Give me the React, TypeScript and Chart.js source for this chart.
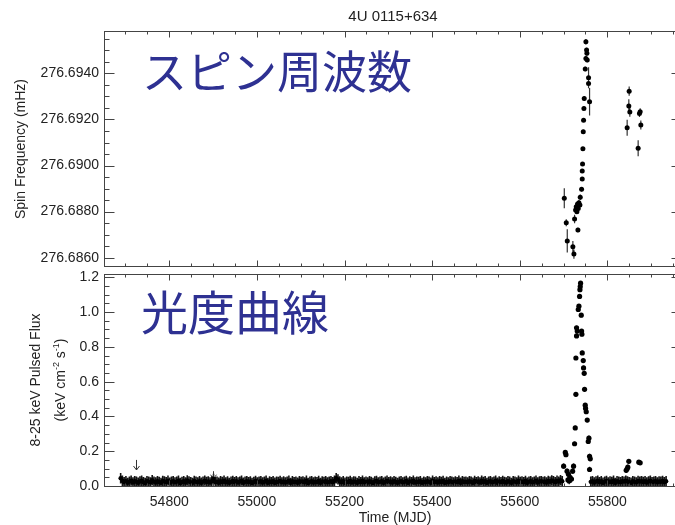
import { useEffect, useRef } from "react";
import { Chart, registerables } from "chart.js";
Chart.register(...registerables);

// ---------- data ----------
const TITLE = "4U 0115+634";
const TOP_LABEL_JP = "スピン周波数";
const BOTTOM_LABEL_JP = "光度曲線";
const X_MIN = 54651;
const X_MAX = 55968;
const X_TICKS = [54800, 55000, 55200, 55400, 55600, 55800];
const FREQ_MIN = 276.68564;
const FREQ_MAX = 276.69584;
const FREQ_TICKS = [276.686, 276.688, 276.69, 276.692, 276.694];
const FLUX_MIN = 0;
const FLUX_MAX = 1.219;
const FLUX_TICKS = [0, 0.2, 0.4, 0.6, 0.8, 1.0, 1.2];

const freqMjd = [55750.9, 55752.5, 55753.2, 55750.9, 55754.0, 55749.4, 55757.0, 55757.0, 55759.3, 55747.1, 55746.4, 55745.6, 55744.9, 55744.1, 55743.3, 55742.6, 55742.6, 55741.1, 55738.0, 55735.0, 55731.9, 55737.3, 55728.9, 55733.5, 55727.4, 55730.4, 55725.1, 55732.7, 55701.6, 55706.1, 55708.4, 55721.2, 55723.6, 55849.7, 55848.9, 55851.2, 55845.1, 55873.2, 55874.8, 55876.3, 55870.2];
const freqVal = [276.69537, 276.69501, 276.69487, 276.69465, 276.69458, 276.69419, 276.69381, 276.69356, 276.69277, 276.69291, 276.69248, 276.69197, 276.69147, 276.69073, 276.69007, 276.68976, 276.68942, 276.68897, 276.68862, 276.68839, 276.68833, 276.68829, 276.68821, 276.68814, 276.68807, 276.688, 276.68768, 276.6872, 276.68858, 276.68752, 276.68673, 276.68648, 276.68616, 276.69323, 276.69258, 276.69232, 276.69164, 276.69226, 276.69234, 276.69176, 276.69075];
const freqErr = [0.00012, 0.0001, 0.0001, 0.0001, 0.0001, 0.0001, 0.00046, 0.0002, 0.0006, 0.0001, 0.00008, 0.00008, 0.00008, 0.00008, 0.00008, 0.00008, 0.00008, 0.0001, 0.00012, 0.00012, 0.00012, 0.0001, 0.00015, 0.00012, 0.00012, 0.0001, 0.00018, 0.0001, 0.00043, 0.00015, 0.0005, 0.00025, 0.0002, 0.0002, 0.0003, 0.0002, 0.00035, 0.00015, 0.00015, 0.0002, 0.00035];

const flareMjd = [55738.8, 55738.0, 55737.3, 55736.5, 55735.0, 55733.5, 55740.3, 55729.6, 55731.2, 55729.6, 55741.1, 55741.8, 55742.6, 55744.9, 55728.1, 55745.6, 55747.1, 55747.9, 55728.1, 55749.4, 55750.2, 55751.7, 55754.0, 55726.6, 55757.8, 55756.3, 55725.1, 55759.3, 55760.9, 55703.9, 55705.4, 55759.3, 55700.1, 55722.8, 55707.9, 55720.6, 55714.9, 55711.1, 55710.0, 55713.0, 55718.0, 55845.1, 55848.9, 55846.6, 55871.7, 55874.8, 55842.9];
const flareFlux = [1.166, 1.147, 1.129, 1.09, 1.034, 1.015, 0.982, 0.91, 0.891, 0.863, 0.891, 0.873, 0.765, 0.721, 0.736, 0.679, 0.648, 0.556, 0.527, 0.465, 0.446, 0.427, 0.379, 0.334, 0.275, 0.256, 0.243, 0.171, 0.156, 0.193, 0.18, 0.095, 0.114, 0.114, 0.085, 0.085, 0.048, 0.067, 0.035, 0.03, 0.04, 0.099, 0.142, 0.108, 0.137, 0.133, 0.09];
const flareErr = [0.012, 0.012, 0.012, 0.012, 0.012, 0.012, 0.012, 0.012, 0.012, 0.012, 0.012, 0.012, 0.012, 0.012, 0.012, 0.012, 0.012, 0.012, 0.012, 0.012, 0.012, 0.012, 0.012, 0.012, 0.015, 0.012, 0.012, 0.015, 0.012, 0.012, 0.012, 0.015, 0.015, 0.015, 0.015, 0.015, 0.02, 0.02, 0.02, 0.02, 0.02, 0.015, 0.012, 0.015, 0.012, 0.012, 0.015];

const baseMjd = [
  54689, 54693, 54697, 54701, 54705, 54709, 54713, 54717, 54721, 54725,
  54729, 54733, 54737, 54741, 54745, 54749, 54753, 54757, 54761, 54765,
  54769, 54773, 54777, 54781, 54785, 54789, 54793, 54797, 54801, 54805,
  54809, 54813, 54817, 54821, 54825, 54829, 54833, 54837, 54841, 54845,
  54849, 54853, 54857, 54861, 54865, 54869, 54873, 54877, 54881, 54885,
  54889, 54893, 54897, 54901, 54905, 54909, 54913, 54917, 54921, 54925,
  54929, 54933, 54937, 54941, 54945, 54949, 54953, 54957, 54961, 54965,
  54969, 54973, 54977, 54981, 54985, 54989, 54993, 54997, 55001, 55005,
  55009, 55013, 55017, 55021, 55025, 55029, 55033, 55037, 55041, 55045,
  55049, 55053, 55057, 55061, 55065, 55069, 55073, 55077, 55081, 55085,
  55089, 55093, 55097, 55101, 55105, 55109, 55113, 55117, 55121, 55125,
  55129, 55133, 55137, 55141, 55145, 55149, 55153, 55157, 55161, 55165,
  55169, 55173, 55177, 55181, 55185, 55189, 55193, 55197, 55201, 55205,
  55209, 55213, 55217, 55221, 55225, 55229, 55233, 55237, 55241, 55245,
  55249, 55253, 55257, 55261, 55265, 55269, 55273, 55277, 55281, 55285,
  55289, 55293, 55297, 55301, 55305, 55309, 55313, 55317, 55321, 55325,
  55329, 55333, 55337, 55341, 55345, 55349, 55353, 55357, 55361, 55365,
  55369, 55373, 55377, 55381, 55385, 55389, 55393, 55397, 55401, 55405,
  55409, 55413, 55417, 55421, 55425, 55429, 55433, 55437, 55441, 55445,
  55449, 55453, 55457, 55461, 55465, 55469, 55473, 55477, 55481, 55485,
  55489, 55493, 55497, 55501, 55505, 55509, 55513, 55517, 55521, 55525,
  55529, 55533, 55537, 55541, 55545, 55549, 55553, 55557, 55561, 55565,
  55569, 55573, 55577, 55581, 55585, 55589, 55593, 55597, 55601, 55605,
  55609, 55613, 55617, 55621, 55625, 55629, 55633, 55637, 55641, 55645,
  55649, 55653, 55657, 55661, 55665, 55669, 55673, 55677, 55681, 55685,
  55689, 55693, 55697,
  55762, 55766, 55770, 55774, 55778, 55782, 55786, 55790, 55794, 55798,
  55802, 55806, 55810, 55814, 55818, 55822, 55826, 55830, 55834, 55838,
  55842, 55846, 55850, 55854, 55858, 55862, 55866, 55870, 55874, 55878,
  55882, 55886, 55890, 55894, 55898, 55902, 55906, 55910, 55914, 55918,
  55922, 55926, 55930, 55934,
];
const baseFlux = [
  0.045, 0.03, 0.022, 0.028, 0.018, 0.025, 0.031, 0.02, 0.027, 0.024,
  0.019, 0.026, 0.03, 0.022, 0.017, 0.028, 0.024, 0.021, 0.033, 0.025,
  0.02, 0.027, 0.023, 0.018, 0.029, 0.026, 0.022, 0.031, 0.019, 0.024,
  0.028, 0.021, 0.025, 0.03, 0.017, 0.023, 0.027, 0.02, 0.032, 0.026,
  0.022, 0.018, 0.029, 0.024, 0.021, 0.027, 0.019, 0.025, 0.031, 0.023,
  0.026, 0.02, 0.028, 0.04, 0.022, 0.025, 0.019, 0.027, 0.023, 0.03,
  0.021, 0.026, 0.018, 0.024, 0.029, 0.022, 0.027, 0.02, 0.025, 0.031,
  0.019, 0.024, 0.028, 0.022, 0.026, 0.017, 0.023, 0.029, 0.021, 0.025,
  0.027, 0.02, 0.024, 0.03, 0.018, 0.026, 0.022, 0.028, 0.019, 0.025,
  0.023, 0.029, 0.021, 0.026, 0.02, 0.024, 0.031, 0.018, 0.027, 0.022,
  0.025, 0.019, 0.028, 0.023, 0.026, 0.021, 0.03, 0.017, 0.024, 0.027,
  0.02, 0.025, 0.022, 0.029, 0.018, 0.026, 0.023, 0.028, 0.021, 0.024,
  0.027, 0.022, 0.03, 0.045, 0.038, 0.026, 0.021, 0.028, 0.019, 0.025,
  0.023, 0.029, 0.02, 0.026, 0.024, 0.018, 0.027, 0.022, 0.03, 0.021,
  0.025, 0.02, 0.028, 0.023, 0.017, 0.026, 0.029, 0.021, 0.024, 0.027,
  0.019, 0.024, 0.03, 0.022, 0.026, 0.02, 0.028, 0.023, 0.018, 0.025,
  0.027, 0.021, 0.024, 0.029, 0.019, 0.026, 0.022, 0.031, 0.02, 0.025,
  0.023, 0.028, 0.018, 0.025, 0.021, 0.027, 0.024, 0.019, 0.03, 0.022,
  0.026, 0.02, 0.027, 0.023, 0.029, 0.018, 0.025, 0.021, 0.028, 0.024,
  0.02, 0.026, 0.022, 0.03, 0.019, 0.027, 0.023, 0.025, 0.021, 0.028,
  0.024, 0.019, 0.029, 0.022, 0.026, 0.02, 0.031, 0.023, 0.027, 0.018,
  0.025, 0.028, 0.021, 0.024, 0.03, 0.019, 0.026, 0.022, 0.029, 0.023,
  0.02, 0.027, 0.024, 0.018, 0.028, 0.025, 0.021, 0.03, 0.023, 0.026,
  0.022, 0.029, 0.019, 0.025, 0.027, 0.021, 0.024, 0.031, 0.02, 0.026,
  0.028, 0.023, 0.026, 0.02, 0.029, 0.024, 0.032, 0.027, 0.022, 0.03,
  0.025, 0.033, 0.028,
  0.024, 0.028, 0.02, 0.026, 0.03, 0.022, 0.027, 0.019, 0.025, 0.029,
  0.021, 0.026, 0.023, 0.03, 0.018, 0.027, 0.024, 0.022, 0.028, 0.025,
  0.03, 0.026, 0.022, 0.019, 0.027, 0.024, 0.021, 0.029, 0.025, 0.028,
  0.023, 0.027, 0.02, 0.026, 0.03, 0.022, 0.025, 0.028, 0.021, 0.026,
  0.024, 0.029, 0.022, 0.027,
];
const BASE_ERR = 0.03;

const limitMjd = [54725, 54900];
const limitFrom = [0.15, 0.085];
const limitTo = [0.092, 0.042];

// ---------- style ----------
const TICK_FONT = "Liberation Sans, Arial, Helvetica, sans-serif";
const JP_FONT = '"Noto Sans CJK JP", "Noto Sans CJK SC", sans-serif';
const JP_COLOR = "#2e3192";
const INK = "#222";

type ErrSet = { xs: number[]; ys: number[]; es: number[]; width: number; color: string };

function drawFrame(chart: any, minorStep: number, perMajor: number) {
  const { ctx, chartArea: a, scales } = chart;
  const x = scales.x, y = scales.y;
  const L = Math.floor(a.left) + 0.5, R = Math.floor(a.right) + 0.5;
  const T = Math.floor(a.top) + 0.5, B = Math.floor(a.bottom) + 0.5;
  ctx.save();
  ctx.strokeStyle = "#444";
  ctx.lineWidth = 1;
  ctx.strokeRect(L, T, R - L, B - T);
  ctx.beginPath();
  for (let v = Math.ceil(x.min / 50) * 50; v <= x.max; v += 50) {
    const px = Math.round(x.getPixelForValue(v)) + 0.5;
    const len = v % 200 === 0 ? 6 : 3;
    ctx.moveTo(px, T); ctx.lineTo(px, T + len);
    ctx.moveTo(px, B); ctx.lineTo(px, B - len);
  }
  const k0 = Math.ceil(y.min / minorStep - 1e-6), k1 = Math.floor(y.max / minorStep + 1e-6);
  for (let k = k0; k <= k1; k++) {
    const py = Math.round(y.getPixelForValue(k * minorStep)) + 0.5;
    const len = k % perMajor === 0 ? 10 : 5;
    ctx.moveTo(L, py); ctx.lineTo(L + len, py);
    ctx.moveTo(R, py); ctx.lineTo(R - len, py);
  }
  ctx.stroke();
  ctx.restore();
}

function drawErrors(chart: any, sets: ErrSet[]) {
  const { ctx, scales } = chart;
  const x = scales.x, y = scales.y;
  ctx.save();
  for (const s of sets) {
    ctx.strokeStyle = s.color;
    ctx.lineWidth = s.width;
    ctx.beginPath();
    for (let i = 0; i < s.xs.length; i++) {
      const px = x.getPixelForValue(s.xs[i]);
      const y0 = Math.min(y.getPixelForValue(s.ys[i] - s.es[i]), chart.chartArea.bottom);
      const y1 = y.getPixelForValue(s.ys[i] + s.es[i]);
      ctx.moveTo(px, y0); ctx.lineTo(px, y1);
    }
    ctx.stroke();
  }
  ctx.restore();
}

function vText(ctx: CanvasRenderingContext2D, parts: { t: string; size: number; dy: number }[], cx: number, cy: number) {
  ctx.save();
  ctx.translate(cx, cy);
  ctx.rotate(-Math.PI / 2);
  let total = 0;
  const widths = parts.map((p) => {
    ctx.font = `${p.size}px ${TICK_FONT}`;
    const w = ctx.measureText(p.t).width;
    total += w;
    return w;
  });
  let xx = -total / 2;
  ctx.textBaseline = "middle";
  ctx.textAlign = "left";
  ctx.fillStyle = INK;
  parts.forEach((p, i) => {
    ctx.font = `${p.size}px ${TICK_FONT}`;
    ctx.fillText(p.t, xx, p.dy);
    xx += widths[i];
  });
  ctx.restore();
}

function yScaleCommon(min: number, max: number, ticks: number[], digits: number) {
  return {
    type: "linear",
    min,
    max,
    grid: { display: false, drawTicks: false },
    border: { display: false },
    ticks: {
      padding: 5,
      color: INK,
      font: { family: TICK_FONT, size: 14 },
      callback: (v: any) => Number(v).toFixed(digits),
    },
    afterBuildTicks: (s: any) => { s.ticks = ticks.map((v) => ({ value: v })); },
    afterFit: (s: any) => { s.width = 104; s.paddingTop = 0; s.paddingBottom = 0; },
  };
}

function topConfig(): any {
  const errs: ErrSet[] = [{ xs: freqMjd, ys: freqVal, es: freqErr, width: 1.2, color: "#333" }];
  return {
    type: "scatter",
    data: {
      datasets: [{
        data: freqMjd.map((x, i) => ({ x, y: freqVal[i] })),
        pointRadius: 2.5,
        pointBackgroundColor: "#000",
        pointBorderWidth: 0,
        showLine: false,
      }],
    },
    options: {
      animation: false,
      responsive: false,
      devicePixelRatio: 1,
      layout: { padding: { top: 31, bottom: 4, left: 0, right: 9 } },
      plugins: { legend: { display: false }, tooltip: { enabled: false }, title: { display: false } },
      scales: {
        x: { type: "linear", min: X_MIN, max: X_MAX, display: false },
        y: yScaleCommon(FREQ_MIN, FREQ_MAX, FREQ_TICKS, 4),
      },
    },
    plugins: [{
      id: "topDecor",
      beforeDatasetsDraw: (c: any) => drawErrors(c, errs),
      afterDraw: (c: any) => {
        drawFrame(c, 0.0005, 4);
        const ctx = c.ctx as CanvasRenderingContext2D;
        ctx.save();
        ctx.fillStyle = INK;
        ctx.font = `15px ${TICK_FONT}`;
        ctx.textAlign = "center";
        ctx.textBaseline = "middle";
        ctx.fillText(TITLE, 393, 17);
        ctx.fillStyle = JP_COLOR;
        ctx.font = `45px ${JP_FONT}`;
        ctx.textAlign = "left";
        ctx.fillText(TOP_LABEL_JP, 142, 72);
        ctx.restore();
        vText(ctx, [{ t: "Spin Frequency (mHz)", size: 14, dy: 0 }], 21.5, 149);
      },
    }],
  };
}

function bottomConfig(): any {
  const errs: ErrSet[] = [
    { xs: baseMjd, ys: baseFlux, es: baseMjd.map(() => BASE_ERR), width: 1.6, color: "#151515" },
    { xs: flareMjd, ys: flareFlux, es: flareErr, width: 1.2, color: "#222" },
  ];
  return {
    type: "scatter",
    data: {
      datasets: [
        {
          data: baseMjd.map((x, i) => ({ x, y: baseFlux[i] })),
          pointRadius: 2.2,
          pointBackgroundColor: "#000",
          pointBorderWidth: 0,
          showLine: false,
        },
        {
          data: flareMjd.map((x, i) => ({ x, y: flareFlux[i] })),
          pointRadius: 2.6,
          pointBackgroundColor: "#000",
          pointBorderWidth: 0,
          showLine: false,
        },
      ],
    },
    options: {
      animation: false,
      responsive: false,
      devicePixelRatio: 1,
      layout: { padding: { top: 3, bottom: 0, left: 0, right: 9 } },
      plugins: { legend: { display: false }, tooltip: { enabled: false }, title: { display: false } },
      scales: {
        x: {
          type: "linear",
          position: "bottom",
          min: X_MIN,
          max: X_MAX,
          grid: { display: false, drawTicks: false },
          border: { display: false },
          ticks: {
            padding: 8,
            color: INK,
            autoSkip: false,
            maxRotation: 0,
            minRotation: 0,
            font: { family: TICK_FONT, size: 14 },
            callback: (v: any) => String(v),
          },
          afterBuildTicks: (s: any) => { s.ticks = X_TICKS.map((v) => ({ value: v })); },
          afterFit: (s: any) => { s.height = 39; s.paddingLeft = 0; s.paddingRight = 0; },
        },
        y: yScaleCommon(FLUX_MIN, FLUX_MAX, FLUX_TICKS, 1),
      },
    },
    plugins: [{
      id: "bottomDecor",
      beforeDatasetsDraw: (c: any) => {
        drawErrors(c, errs);
        const ctx = c.ctx as CanvasRenderingContext2D;
        const x = c.scales.x, y = c.scales.y;
        ctx.save();
        ctx.strokeStyle = "#333";
        ctx.lineWidth = 1;
        ctx.beginPath();
        for (let i = 0; i < limitMjd.length; i++) {
          const px = Math.round(x.getPixelForValue(limitMjd[i])) + 0.5;
          const a = y.getPixelForValue(limitFrom[i]);
          const b = y.getPixelForValue(limitTo[i]);
          ctx.moveTo(px, a); ctx.lineTo(px, b);
          ctx.moveTo(px - 3, b - 4); ctx.lineTo(px, b); ctx.lineTo(px + 3, b - 4);
        }
        ctx.stroke();
        ctx.restore();
      },
      afterDraw: (c: any) => {
        drawFrame(c, 0.05, 4);
        const ctx = c.ctx as CanvasRenderingContext2D;
        ctx.save();
        ctx.fillStyle = JP_COLOR;
        ctx.font = `47px ${JP_FONT}`;
        ctx.textAlign = "left";
        ctx.textBaseline = "middle";
        ctx.fillText(BOTTOM_LABEL_JP, 141, 42);
        ctx.fillStyle = INK;
        ctx.font = `14px ${TICK_FONT}`;
        ctx.textAlign = "center";
        ctx.fillText("Time (MJD)", 395, 248);
        ctx.restore();
        vText(ctx, [{ t: "8-25 keV Pulsed Flux", size: 14, dy: 0 }], 36.5, 110);
        vText(ctx, [
          { t: "(keV cm", size: 14, dy: 0 },
          { t: "-2", size: 9, dy: -5 },
          { t: " s", size: 14, dy: 0 },
          { t: "-1", size: 9, dy: -5 },
          { t: ")", size: 14, dy: 0 },
        ], 61.5, 110);
      },
    }],
  };
}

export default function App() {
  const topRef = useRef<HTMLCanvasElement>(null);
  const botRef = useRef<HTMLCanvasElement>(null);
  useEffect(() => {
    const c1 = new Chart(topRef.current as HTMLCanvasElement, topConfig());
    const c2 = new Chart(botRef.current as HTMLCanvasElement, bottomConfig());
    return () => { c1.destroy(); c2.destroy(); };
  }, []);
  return (
    <div style={{ position: "fixed", left: 0, top: 0, width: 675, height: 525, overflow: "hidden", background: "#fff" }}>
      <canvas ref={topRef} width={690} height={270} style={{ position: "absolute", left: 0, top: 0 }} />
      <canvas ref={botRef} width={690} height={255} style={{ position: "absolute", left: 0, top: 270 }} />
    </div>
  );
}
